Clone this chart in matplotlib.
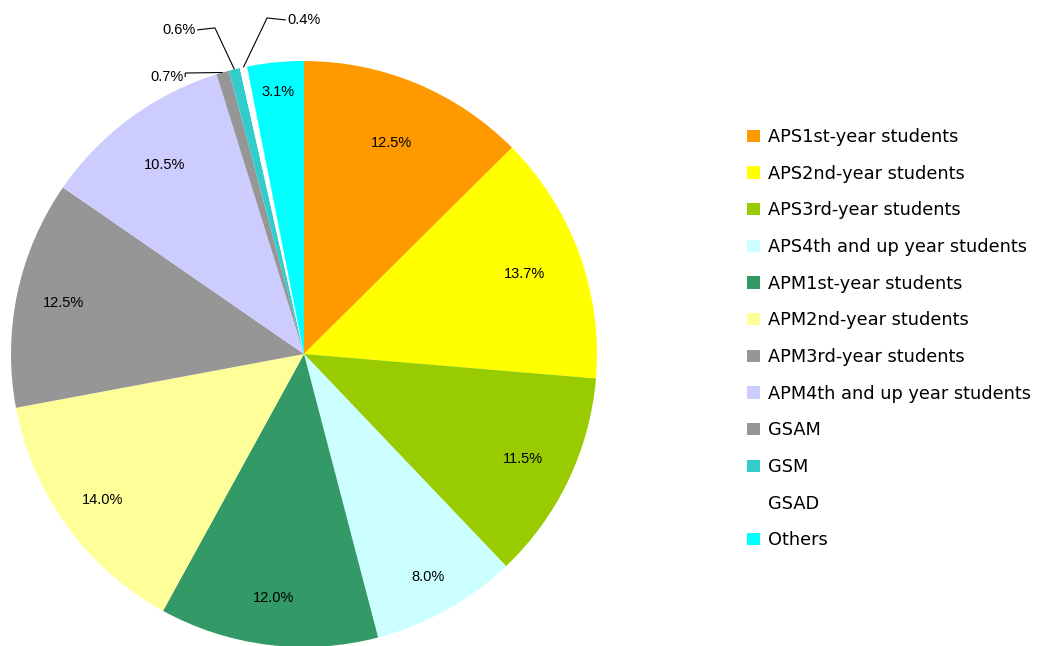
import matplotlib

matplotlib.use("Agg")
import matplotlib.pyplot as plt
import numpy as np
from matplotlib.patches import Patch

categories = [
    "APS1st-year students",
    "APS2nd-year students",
    "APS3rd-year students",
    "APS4th and up year students",
    "APM1st-year students",
    "APM2nd-year students",
    "APM3rd-year students",
    "APM4th and up year students",
    "GSAM",
    "GSM",
    "GSAD",
    "Others",
]
shares = [12.5, 13.7, 11.5, 8.0, 12.0, 14.0, 12.5, 10.5, 0.7, 0.6, 0.4, 3.1]
colors = ["#FF9900", "#FFFF00", "#99CC00", "#CCFFFF", "#339966", "#FFFF99",
          "#969696", "#CCCCFF", "#969696", "#33CCCC", "#FFFFFF", "#00FFFF"]

# label radius per slice (inside labels), small slices get leader lines
label_r = [0.78, 0.80, 0.83, 0.87, 0.84, 0.85, 0.84, 0.80, None, None, None, 0.90]
# outside label positions for the tiny slices (data coords) and the elbow of the leader
outside = {
    8: ((-0.468, 0.945), (-0.405, 0.959)),
    9: ((-0.427, 1.106), (-0.304, 1.113)),
    10: ((0.0, 1.14), (-0.126, 1.147)),
}

fig = plt.figure(figsize=(10.38, 6.46), dpi=100)
W, H = 1038, 646
cx, cy, R = 304, 354, 293
ax = fig.add_axes([(cx - R) / W, (H - cy - R) / H, 2 * R / W, 2 * R / H])

wedges, _ = ax.pie(shares, colors=colors, startangle=90, counterclock=False,
                   radius=1.0, wedgeprops=dict(linewidth=0))
ax.set_xlim(-1, 1)
ax.set_ylim(-1, 1)
ax.set_aspect("equal")
ax.axis("off")

lab_font = dict(family="Liberation Sans", fontsize=10.5, color="black")
for i, w in enumerate(wedges):
    mid = np.deg2rad((w.theta1 + w.theta2) / 2)
    txt = f"{shares[i]:.1f}%"
    if label_r[i] is not None:
        r = label_r[i]
        ax.text(r * np.cos(mid), r * np.sin(mid), txt, ha="center", va="center", **lab_font)
    else:
        (tx, ty), (ex, ey) = outside[i]
        px, py = 1.0 * np.cos(mid), 1.0 * np.sin(mid)
        start = tx + 0.062 if tx < ex else tx - 0.062
        ax.plot([start, ex, px], [ty, ey, py], color="black", lw=0.8,
                clip_on=False, solid_capstyle="butt")
        ax.text(tx, ty, txt, ha="center", va="center", clip_on=False, **lab_font)

handles = [Patch(facecolor=c, edgecolor="none") for c in colors]
fig.legend(handles, categories, loc="upper left", bbox_to_anchor=(740 / W, 1 - 121 / H),
           frameon=False, prop=dict(family="DejaVu Sans", size=12.8),
           handlelength=0.7, handleheight=0.7, handletextpad=0.45,
           labelspacing=1.05, borderaxespad=0)

fig.savefig("out.png", dpi=100)
